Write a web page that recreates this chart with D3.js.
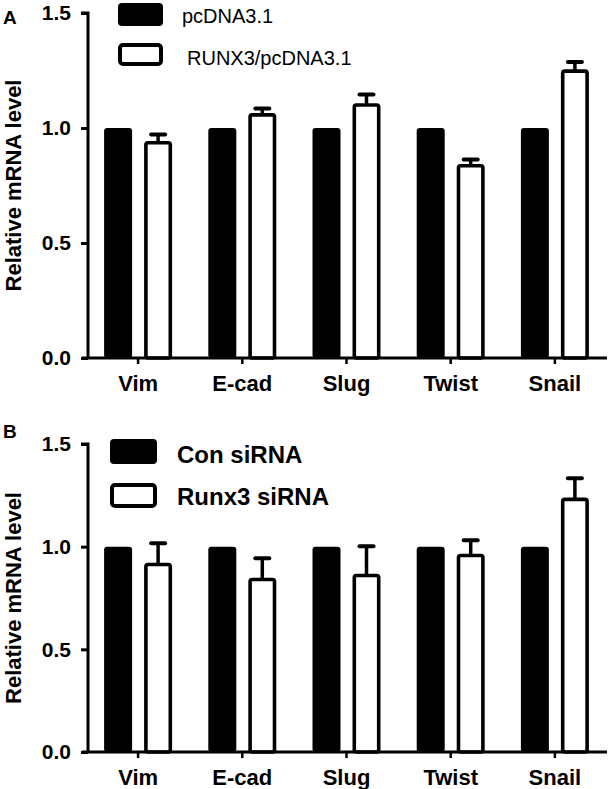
<!DOCTYPE html>
<html>
<head>
<meta charset="utf-8">
<script src="https://cdn.jsdelivr.net/npm/d3@7/dist/d3.min.js"></script>
<style>
  html, body { margin: 0; padding: 0; background: #fff; }
  svg { display: block; font-family: "Liberation Sans", Arial, sans-serif; }
</style>
</head>
<body>
<svg id="chart" width="611" height="789"></svg>
<script>
const categories = ["Vim", "E-cad", "Slug", "Twist", "Snail"];
const yTicks = [0, 0.5, 1.0, 1.5];

// Panel A
const aSeries = ["pcDNA3.1", "RUNX3/pcDNA3.1"];
const aControl = [1, 1, 1, 1, 1];
const aTreated = [0.944, 1.065, 1.108, 0.844, 1.255];
const aTreatedErr = [0.036, 0.028, 0.046, 0.028, 0.041];

// Panel B
const bSeries = ["Con siRNA", "Runx3 siRNA"];
const bControl = [1, 1, 1, 1, 1];
const bTreated = [0.922, 0.849, 0.868, 0.966, 1.239];
const bTreatedErr = [0.104, 0.104, 0.144, 0.075, 0.104];

const svg = d3.select("#chart");
const SW = 3.6;

function panel(cfg) {
  const g = svg.append("g");
  const y = d3.scaleLinear().domain([0, 1.5]).range([cfg.y0, cfg.y15]);
  const x = d3.scaleBand().domain(categories).range([86, 607]);
  const x1 = d3.scaleBand().domain([0, 1]).range([-34, 34]).paddingInner(0.3);

  // control (black) bars
  g.selectAll(".ctrl").data(cfg.control).enter().append("rect")
    .attr("x", (d, i) => x(categories[i]) + x.bandwidth() / 2 + x1(0))
    .attr("width", x1.bandwidth())
    .attr("y", d => y(d))
    .attr("height", d => y(0) - y(d))
    .attr("rx", 3)
    .attr("fill", "#000");

  // error bars for treated
  const eg = g.selectAll(".err").data(cfg.treated).enter().append("g");
  eg.append("line")
    .attr("x1", (d, i) => x(categories[i]) + x.bandwidth() / 2 + x1(1) + x1.bandwidth() / 2)
    .attr("x2", (d, i) => x(categories[i]) + x.bandwidth() / 2 + x1(1) + x1.bandwidth() / 2)
    .attr("y1", d => y(d) + 2)
    .attr("y2", (d, i) => y(d + cfg.err[i]) + 2)
    .attr("stroke", "#000").attr("stroke-width", 3.5);
  eg.append("line")
    .attr("x1", (d, i) => x(categories[i]) + x.bandwidth() / 2 + x1(1) + x1.bandwidth() / 2 - 7)
    .attr("x2", (d, i) => x(categories[i]) + x.bandwidth() / 2 + x1(1) + x1.bandwidth() / 2 + 7)
    .attr("y1", (d, i) => y(d + cfg.err[i]) + 2)
    .attr("y2", (d, i) => y(d + cfg.err[i]) + 2)
    .attr("stroke", "#000").attr("stroke-width", 4).attr("stroke-linecap", "round");

  // treated (white) bars
  g.selectAll(".trt").data(cfg.treated).enter().append("rect")
    .attr("x", (d, i) => x(categories[i]) + x.bandwidth() / 2 + x1(1) + SW / 2)
    .attr("width", x1.bandwidth() - SW)
    .attr("y", d => y(d) + SW / 2)
    .attr("height", d => y(0) - y(d) - SW / 2)
    .attr("rx", 2)
    .attr("fill", "#fff").attr("stroke", "#000").attr("stroke-width", SW);

  // y axis
  const ya = g.append("g").attr("transform", "translate(88,0)")
    .call(d3.axisLeft(y).tickValues(yTicks).tickFormat(d3.format(".1f")).tickSize(7).tickPadding(10));
  ya.select(".domain").attr("stroke-width", 3).attr("d", `M-7,${y(1.5)}H0V${y(0)}`);
  ya.selectAll(".tick line").attr("stroke-width", 3);
  ya.selectAll(".tick text").attr("font-size", 21).attr("font-weight", "bold")
    .attr("fill", "#000").attr("font-family", "Liberation Sans, Arial, sans-serif");

  // x axis
  const xa = g.append("g").attr("transform", `translate(0,${y(0)})`)
    .call(d3.axisBottom(x).tickSize(6).tickPadding(11));
  xa.select(".domain").attr("stroke-width", 3).attr("d", `M82,0H607`);
  xa.selectAll(".tick line").attr("stroke-width", 2.5);
  xa.selectAll(".tick text").attr("font-size", 22).attr("font-weight", "bold")
    .attr("fill", "#000").attr("font-family", "Liberation Sans, Arial, sans-serif");

  // y title
  g.append("text")
    .attr("transform", `translate(21,${(y(0) + y(1.5)) / 2}) rotate(-90)`)
    .attr("text-anchor", "middle")
    .attr("font-size", 22).attr("font-weight", "bold")
    .text("Relative mRNA level");

  // panel letter
  g.append("text").attr("x", 3).attr("y", cfg.letterY)
    .attr("font-size", 19).attr("font-weight", "bold").text(cfg.letter);

  // legend
  const L = cfg.legend;
  g.append("rect").attr("x", L.x).attr("y", L.y1).attr("width", L.w).attr("height", L.h)
    .attr("rx", 4).attr("fill", "#000");
  g.append("rect").attr("x", L.x + 2).attr("y", L.y2 + 2).attr("width", L.w - 4).attr("height", L.h - 4)
    .attr("rx", 3).attr("fill", "#fff").attr("stroke", "#000").attr("stroke-width", 4);
  g.append("text").attr("x", L.tx1).attr("y", L.b1)
    .attr("font-size", L.fs).attr("font-weight", L.fw).text(cfg.series[0]);
  g.append("text").attr("x", L.tx2).attr("y", L.b2)
    .attr("font-size", L.fs).attr("font-weight", L.fw).text(cfg.series[1]);
}

panel({
  y0: 358, y15: 13, control: aControl, treated: aTreated, err: aTreatedErr,
  series: aSeries, letter: "A", letterY: 24,
  legend: { x: 118, y1: 3, y2: 43, w: 45, h: 23, tx1: 182, tx2: 187, b1: 23, b2: 65, fs: 20, fw: "normal" }
});

panel({
  y0: 752, y15: 444, control: bControl, treated: bTreated, err: bTreatedErr,
  series: bSeries, letter: "B", letterY: 438,
  legend: { x: 110, y1: 439, y2: 483, w: 47, h: 25, tx1: 177, tx2: 177, b1: 463, b2: 505, fs: 24, fw: "bold" }
});
</script>
</body>
</html>
